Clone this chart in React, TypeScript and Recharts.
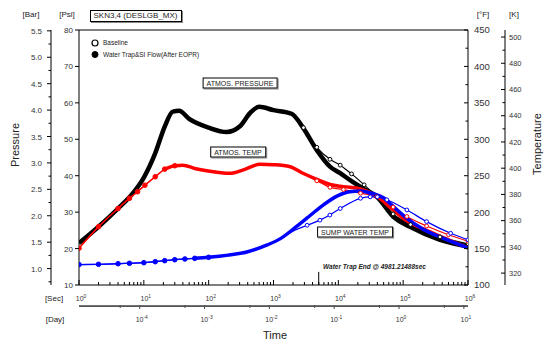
import React from 'react';
import { LineChart, Line, XAxis, YAxis, ReferenceLine } from 'recharts';

const FONT = "'Liberation Sans', Arial, Helvetica, sans-serif";

// [time sec, psi]
const pressBase: [number, number][] = [
  [1, 21.5], [2, 26.0], [4, 31.0], [7, 35.5], [10, 39.5], [15, 46.2], [21, 53.5], [28, 57.6],
  [35, 57.8], [50, 55.6], [100, 53.2], [190, 52.0], [300, 53.5], [450, 57.5], [600, 58.9],
  [1000, 58.0], [1900, 57.0], [2900, 53.2], [4660, 47.8], [7430, 44.5], [10700, 42.9],
  [16000, 40.5], [25000, 37.5], [39000, 34.3], [70000, 29.5], [130000, 26.6], [370000, 23.2],
  [1000000, 21.3],
];
const pressTrap: [number, number][] = [
  [1, 21.5], [2, 26.0], [4, 31.0], [7, 35.5], [10, 39.5], [15, 46.2], [21, 53.5], [28, 57.6],
  [35, 57.8], [50, 55.6], [100, 53.2], [190, 52.0], [300, 53.5], [450, 57.5], [600, 58.9],
  [1000, 58.0], [1900, 57.0], [2900, 53.0], [4660, 47.0], [7430, 42.5], [10700, 40.7],
  [16000, 38.5], [25000, 36.3], [39000, 34.3], [70000, 28.8], [130000, 25.9], [370000, 22.4],
  [1000000, 20.6],
];

// [time sec, degF]
const atmBase: [number, number][] = [
  [1, 150.5], [2, 180], [4, 205], [6, 219], [8, 228], [10.4, 237], [15, 248.6], [21, 259],
  [30, 263.7], [40, 264.5], [61, 260], [98, 256.5], [214, 253.3], [344, 258], [620, 265.6],
  [1000, 265], [1800, 262.4], [2900, 253], [4660, 243], [7430, 234], [12000, 231], [22000, 226],
  [39000, 221], [70000, 207], [114000, 194], [230000, 181], [500000, 169], [1000000, 160],
];
const atmTrap: [number, number][] = [
  [1, 150.5], [2, 180], [4, 205], [6, 219], [8, 228], [10.4, 237], [15, 248.6], [21, 259],
  [30, 263.7], [40, 264.5], [61, 260], [98, 256.5], [214, 253.3], [344, 258], [620, 265.6],
  [1000, 265], [1800, 262.4], [2900, 253], [4660, 245], [7430, 238], [12000, 235], [22000, 232],
  [39000, 222], [70000, 203], [114000, 188], [230000, 175], [500000, 162], [1000000, 151],
];

const sumpBase: [number, number][] = [
  [1, 128], [2, 128.4], [4, 129.2], [6, 129.8], [10, 130.6], [15, 132], [21, 133.4], [30, 134.7],
  [43, 135.7], [61, 136.6], [100, 138], [200, 141], [400, 145.7], [800, 155], [1300, 164],
  [2100, 175], [3300, 182], [5200, 189], [7400, 196], [10700, 205], [22000, 219], [31000, 221],
  [40000, 221], [56000, 217], [114000, 203], [230000, 187], [540000, 171], [1000000, 162],
];
const sumpTrap: [number, number][] = [
  [1, 128], [2, 128.4], [4, 129.2], [6, 129.8], [10, 130.6], [15, 132], [21, 133.4], [30, 134.7],
  [43, 135.7], [61, 136.6], [100, 138], [200, 141], [400, 145.7], [800, 155], [1300, 164],
  [2100, 178], [3300, 192], [5900, 210], [9500, 222], [15000, 228], [22000, 229], [32000, 226],
  [49000, 220], [70000, 208], [114000, 191.5], [200000, 177], [370000, 166], [1000000, 151],
];

const trapEndSec = 4981.21488;

const SEC_PER_DAY = 86400;
const PSI_PER_BAR = 14.5038;
const fToK = (f: number) => ((f - 32) * 5) / 9 + 273.15;

const psiTicks = [10, 20, 30, 40, 50, 60, 70, 80];
const barTicks = [0.75, 1.0, 1.25, 1.5, 1.75, 2.0, 2.25, 2.5, 2.75, 3.0, 3.25, 3.5, 3.75, 4.0, 4.25, 4.5, 4.75, 5.0, 5.25, 5.5];
const degFTicks = [100, 125, 150, 175, 200, 225, 250, 275, 300, 325, 350, 375, 400, 425, 450];
const kelvinTicks = [320, 330, 340, 350, 360, 370, 380, 390, 400, 410, 420, 430, 440, 450, 460, 470, 480, 490, 500];
const secMajor = [1, 10, 100, 1000, 10000, 100000, 1000000];
const dayMajor = [1e-4, 1e-3, 1e-2, 1e-1, 1, 10];

const secTicks: number[] = [];
secMajor.forEach((d) => {
  for (let m = 1; m <= 9; m++) if (d * m <= 1e6) secTicks.push(d * m);
});
// day ticks, placed on the seconds scale
const dayTicks: number[] = [5e-5 * SEC_PER_DAY];
dayMajor.forEach((d) => {
  dayTicks.push(d * SEC_PER_DAY);
  if (d * 5 * SEC_PER_DAY < 1e6) dayTicks.push(d * 5 * SEC_PER_DAY);
});

const pts = (arr: [number, number][]) => arr.map(([t, v]) => ({ t, v }));

const isDecade = (v: number) => Math.abs(Math.log10(v) - Math.round(Math.log10(v))) < 1e-6;

const Pow = ({ x, y, exp, size }: any) => (
  <text x={x} y={y} textAnchor="middle" fontSize={size} fill="#333" fontFamily={FONT}>
    10<tspan dy={-3.5} fontSize={size * 0.7}>{exp}</tspan>
  </text>
);

const SecTick = (p: any) => {
  const { x, y, payload } = p;
  const major = isDecade(payload.value);
  return (
    <g>
      <line x1={x} x2={x} y1={y} y2={y - (major ? 5 : 3)} stroke="#000" />
      {major && <Pow x={x + 2} y={y + 16} exp={Math.round(Math.log10(payload.value))} size={7} />}
    </g>
  );
};

const TopTick = (p: any) => {
  const { x, y, payload } = p;
  const major = isDecade(payload.value);
  return <line x1={x} x2={x} y1={y} y2={y + (major ? 5 : 3)} stroke="#000" />;
};

const DayTick = (p: any) => {
  const { x, y, payload } = p;
  const days = payload.value / SEC_PER_DAY;
  const major = isDecade(days);
  return (
    <g>
      <line x1={x} x2={x} y1={y - 1} y2={y + (major ? 3 : 2)} stroke="#444" />
      {major && <Pow x={x + 2} y={y + 16} exp={Math.round(Math.log10(days))} size={7} />}
    </g>
  );
};

const leftTick = (isMajor: (v: number) => boolean, fmt: (v: number) => string, size: number, gap: number) =>
  (p: any) => {
    const { x, y, payload } = p;
    const major = isMajor(payload.value);
    return (
      <g>
        <line x1={x - (major ? 4 : 2.5)} x2={x} y1={y} y2={y} stroke="#000" />
        {major && (
          <text x={x - gap} y={y} dy={3} textAnchor="end" fontSize={size} fill="#333" fontFamily={FONT}>
            {fmt(payload.value)}
          </text>
        )}
      </g>
    );
  };

const rightTick = (isMajor: (v: number) => boolean, size: number, gap: number) =>
  (p: any) => {
    const { x, y, payload } = p;
    const major = isMajor(payload.value);
    return (
      <g>
        <line x1={x - (major ? 4 : 2.5)} x2={x} y1={y} y2={y} stroke="#000" />
        {major && (
          <text x={x + gap} y={y} dy={size * 0.36} textAnchor="start" fontSize={size} fill="#333" fontFamily={FONT}>
            {payload.value}
          </text>
        )}
      </g>
    );
  };

const PsiTick = leftTick(() => true, (v) => String(v), 8, 6);
const BarTick = leftTick((v) => Math.abs(v * 2 - Math.round(v * 2)) < 1e-6, (v) => v.toFixed(1), 8, 9);
const DegFTick = rightTick((v) => v % 50 === 0, 9.5, 6);
const KTick = rightTick((v) => v % 20 === 0, 7.5, 4);

// filled dots only on the sparse early part of a series
const filledUntil = (color: string, maxT: number) => (p: any) => {
  const { cx, cy, payload, index } = p;
  if (payload.t > maxT) return <g key={`f${index}`} />;
  return <circle key={`f${index}`} cx={cx} cy={cy} r={2.3} fill={color} stroke={color} />;
};
// open circles only where the baseline separates from the water trap case
const openFrom = (color: string, minT: number) => (p: any) => {
  const { cx, cy, payload, index } = p;
  if (payload.t < minT) return <g key={`o${index}`} />;
  return <circle key={`o${index}`} cx={cx} cy={cy} r={1.9} fill="#fff" stroke={color} strokeWidth={1} />;
};

const Label = ({ x, y, size, children, style }: any) => (
  <div
    style={{
      position: 'absolute', left: x, top: y, fontSize: size, fontFamily: FONT, lineHeight: 1,
      whiteSpace: 'nowrap', transform: 'translate(-50%, -50%)', color: '#222', ...style,
    }}
  >
    {children}
  </div>
);

const boxStyle = { border: '1px solid #000', boxShadow: '1px 1px 0 #888', background: '#fff', padding: '1px 3px' };

export default function App() {
  return (
    <div style={{ position: 'absolute', left: 0, top: 0, width: 544, height: 342, background: '#fff' }}>
      <LineChart width={544} height={342} margin={{ top: 28, right: 10, bottom: 10, left: 11 }}>
        <XAxis xAxisId="a_sec" dataKey="t" type="number" scale="log" domain={[1, 1e6]} allowDataOverflow
          ticks={secTicks} interval={0} height={21} tickSize={0} tickMargin={0} tickLine={false}
          tick={SecTick} axisLine={{ stroke: '#000' }} />
        <XAxis xAxisId="b_day" dataKey="t" type="number" scale="log" domain={[1, 1e6]} allowDataOverflow
          ticks={dayTicks} interval={0} height={26} tickSize={0} tickMargin={0} tickLine={false}
          tick={DayTick} axisLine={{ stroke: '#444', strokeWidth: 1.5 }} />
        <XAxis xAxisId="c_top" orientation="top" type="number" scale="log" domain={[1, 1e6]} allowDataOverflow
          ticks={secTicks} interval={0} height={2} tickSize={0} tickMargin={0} tickLine={false}
          tick={TopTick} axisLine={{ stroke: '#000' }} />
        <YAxis yAxisId="a_psi" orientation="left" type="number" domain={[10, 80]} allowDataOverflow
          ticks={psiTicks} interval={0} width={28} tickSize={0} tickMargin={0} tickLine={false}
          tick={PsiTick} axisLine={{ stroke: '#000' }} />
        <YAxis yAxisId="b_bar" orientation="left" type="number" domain={[10 / PSI_PER_BAR, 80 / PSI_PER_BAR]} allowDataOverflow
          ticks={barTicks} interval={0} width={40} tickSize={0} tickMargin={0} tickLine={false}
          tick={BarTick} axisLine={{ stroke: '#000' }} />
        <YAxis yAxisId="a_degF" orientation="right" type="number" domain={[100, 450]} allowDataOverflow
          ticks={degFTicks} interval={0} width={37} tickSize={0} tickMargin={0} tickLine={false}
          tick={DegFTick} axisLine={{ stroke: '#000' }} />
        <YAxis yAxisId="b_K" orientation="right" type="number" domain={[fToK(100), fToK(450)]} allowDataOverflow
          ticks={kelvinTicks} interval={0} width={29} tickSize={0} tickMargin={0} tickLine={false}
          tick={KTick} axisLine={{ stroke: '#000' }} />

        {/* carrier for the day axis, drawn invisibly */}
        <Line xAxisId="b_day" yAxisId="a_psi" data={pts(pressTrap)} dataKey="v" stroke="none" strokeWidth={0}
          dot={false} activeDot={false} legendType="none" isAnimationActive={false} />

        <Line xAxisId="a_sec" yAxisId="a_psi" data={pts(pressBase)} dataKey="v" type="monotone" stroke="#000"
          strokeWidth={1.2} dot={openFrom('#000', 2900)} isAnimationActive={false} />
        <Line xAxisId="a_sec" yAxisId="a_psi" data={pts(pressTrap)} dataKey="v" type="monotone" stroke="#000"
          strokeWidth={4.5} dot={false} isAnimationActive={false} />

        <Line xAxisId="a_sec" yAxisId="a_degF" data={pts(atmBase)} dataKey="v" type="monotone" stroke="#f00"
          strokeWidth={1.2} dot={openFrom('#f00', 4660)} isAnimationActive={false} />
        <Line xAxisId="a_sec" yAxisId="a_degF" data={pts(atmTrap)} dataKey="v" type="monotone" stroke="#f00"
          strokeWidth={1.3} dot={filledUntil('#f00', 30)} isAnimationActive={false} />
        <Line xAxisId="a_sec" yAxisId="a_degF" data={pts(atmTrap.filter(([t]) => t >= 21))} dataKey="v" type="monotone"
          stroke="#f00" strokeWidth={3.5} dot={false} isAnimationActive={false} />

        <Line xAxisId="a_sec" yAxisId="a_degF" data={pts(sumpBase)} dataKey="v" type="monotone" stroke="#00f"
          strokeWidth={1.2} dot={openFrom('#00f', 3300)} isAnimationActive={false} />
        <Line xAxisId="a_sec" yAxisId="a_degF" data={pts(sumpTrap)} dataKey="v" type="monotone" stroke="#00f"
          strokeWidth={1.3} dot={filledUntil('#00f', 100)} isAnimationActive={false} />
        <Line xAxisId="a_sec" yAxisId="a_degF" data={pts(sumpTrap.filter(([t]) => t >= 61))} dataKey="v" type="monotone"
          stroke="#00f" strokeWidth={3.5} dot={false} isAnimationActive={false} />

        <ReferenceLine xAxisId="a_sec" yAxisId="a_psi" segment={[{ x: trapEndSec, y: 10 }, { x: trapEndSec, y: 13.6 }]}
          stroke="#000" strokeWidth={1} />
      </LineChart>

      {/* day axis rule */}
      <div style={{ position: 'absolute', left: 79, top: 305.5, width: 389, height: 1.5, background: '#555' }} />

      <Label x={31} y={15} size={8}>[Bar]</Label>
      <Label x={67} y={15} size={8}>[Psi]</Label>
      <Label x={135.5} y={15.5} size={8} style={boxStyle}>SKN3,4 (DESLGB_MX)</Label>
      <Label x={483} y={15} size={8}>[°F]</Label>
      <Label x={514} y={15} size={8}>[K]</Label>

      <svg style={{ position: 'absolute', left: 0, top: 0 }} width={544} height={342} pointerEvents="none">
        <circle cx={95} cy={43} r={3} fill="#fff" stroke="#000" strokeWidth={1.2} />
        <circle cx={95} cy={54.5} r={3} fill="#000" stroke="#000" />
      </svg>
      <Label x={103} y={43} size={6.5} style={{ transform: 'translate(0, -50%)' }}>Baseline</Label>
      <Label x={103} y={54.5} size={6.5} style={{ transform: 'translate(0, -50%)' }}>Water Trap&amp;SI Flow(After EOPR)</Label>

      <Label x={15} y={145} size={11} style={{ transform: 'translate(-50%, -50%) rotate(-90deg)' }}>Pressure</Label>
      <Label x={537} y={144} size={11} style={{ transform: 'translate(-50%, -50%) rotate(-90deg)' }}>Temperature</Label>
      <Label x={54} y={299} size={8}>[Sec]</Label>
      <Label x={55} y={320} size={8}>[Day]</Label>
      <Label x={275} y={335} size={11}>Time</Label>

      <Label x={240} y={83} size={7} style={boxStyle}>ATMOS. PRESSURE</Label>
      <Label x={238} y={151.5} size={7} style={boxStyle}>ATMOS. TEMP</Label>
      <Label x={355} y={231.5} size={7} style={boxStyle}>SUMP WATER TEMP</Label>
      <Label x={323} y={267} size={6.5} style={{ transform: 'translate(0, -50%)', fontWeight: 'bold', fontStyle: 'italic' }}>
        Water Trap End @ 4981.21488sec
      </Label>
    </div>
  );
}
